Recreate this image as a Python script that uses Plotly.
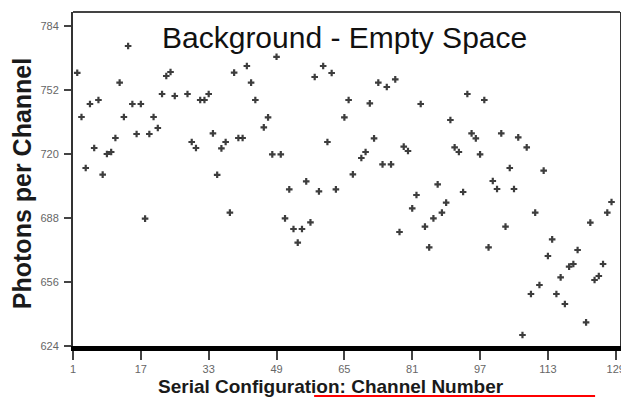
import plotly.graph_objects as go

channels = [2, 3, 4, 5, 6, 7, 8, 9, 10, 11, 12, 13, 14, 15, 16, 17, 18, 19, 20, 21, 22,
            23, 24, 25, 28, 29, 30, 31, 32, 33, 34, 35, 36, 37, 38, 39, 40, 41, 42, 43, 44,
            46, 47, 48, 49, 50, 51, 52, 53, 54, 55, 56, 57, 58, 59, 60, 61, 62, 63, 65, 66,
            67, 69, 70, 71, 72, 73, 74, 75, 76, 77, 78, 79, 80, 81, 82, 83, 84, 85, 86, 87,
            88, 89, 90, 91, 92, 93, 94, 95, 96, 97, 98, 99, 100, 101, 102, 103, 104, 105, 106,
            107, 108, 109, 110, 111, 112, 113, 114, 115, 116, 117, 118, 119, 120, 122, 123,
            124, 125, 126, 127, 128]
photons = [760.6, 738.5, 713, 745, 723, 747, 709.7, 720, 721, 728, 755.7, 738.5, 774, 745, 730, 745, 687.7, 730, 738.5, 733, 750,
           759, 761, 749, 750, 726, 723, 747, 747, 750, 730.3, 709.6, 722.8, 726, 690.7, 760.7, 728, 728, 764, 755.7, 747,
           733.3, 738.3, 719.8, 768.6, 719.8, 687.8, 702.3, 682.5, 675.7, 682.5, 706.3, 685.8, 758.5, 701.3, 764, 726, 760.5, 702.3, 738.3, 747,
           709.8, 718, 721, 745.3, 727.8, 755.7, 714.8, 753.5, 714.8, 757.3, 681, 723.7, 721.5, 692.8, 699.5, 745, 683.7, 673.3, 687.8, 704.8,
           690.7, 695.7, 737, 723.3, 721, 701, 750, 730.3, 727.8, 719.8, 747, 673.3, 706.5, 702.5, 730.3, 683.7, 713, 702.5, 728.3,
           629.5, 723.3, 650, 690.7, 654.5, 711.7, 669, 677.3, 650, 658.3, 645, 663.7, 665, 672, 635.8, 685.7,
           657, 659, 665, 690.7, 696]

y_ticks = [624, 656, 688, 720, 752, 784]
x_ticks = [1, 17, 33, 49, 65, 81, 97, 113, 129]

title_text = "Background - Empty Space"
x_title = "Serial Configuration: Channel Number"
y_title = "Photons per Channel"

fig = go.Figure()
fig.add_trace(go.Scatter(
    x=channels, y=photons, mode="markers",
    marker=dict(symbol="cross", size=5.5, color="rgba(40,40,40,0.9)", line=dict(width=0)),
    showlegend=False, hoverinfo="x+y"))

# page body has an 8px margin, so the figure is sized to fill the rest of the window
OFF = 8
W, H = 629 - OFF, 398 - OFF
L, R, T, B = 73 - OFF, 629 - 622, 12 - OFF, 398 - 346
pw, ph = 622 - 73, 346 - 12

def px(xs):
    return (xs - 73) / pw

def py(ys):
    return (346 - ys) / ph

fig.update_layout(
    width=W, height=H,
    margin=dict(l=L, r=R, t=T, b=B, pad=0),
    paper_bgcolor="white", plot_bgcolor="white",
    font=dict(family="Liberation Sans, Arial, sans-serif"),
    xaxis=dict(range=[1, 130], tickvals=x_ticks, ticktext=[str(v) for v in x_ticks],
               showgrid=False, zeroline=False, showline=True, linewidth=5, linecolor="black",
               ticks="outside", ticklen=9, tickwidth=2, tickcolor="#444",
               tickfont=dict(size=11, color="#666")),
    yaxis=dict(range=[624, 791], tickvals=y_ticks, ticktext=[str(v) for v in y_ticks],
               showgrid=False, zeroline=False, showline=True, linewidth=2, linecolor="#333",
               mirror=True, ticklabelstandoff=3,
               ticks="outside", ticklen=7, tickwidth=2, tickcolor="#444",
               tickfont=dict(size=11, color="#666")),
    annotations=[
        dict(text=title_text, xref="paper", yref="paper", x=px(345), y=py(38),
             xanchor="center", yanchor="middle", showarrow=False,
             font=dict(size=30, color="#111")),
        dict(text="<b>" + y_title + "</b>", xref="paper", yref="paper", x=px(22), y=py(184),
             xanchor="center", yanchor="middle", textangle=-90, showarrow=False,
             font=dict(size=25, color="#1a1a1a")),
        dict(text="<b>" + x_title + "</b>", xref="paper", yref="paper", x=px(332), y=py(386),
             xanchor="center", yanchor="middle", showarrow=False,
             font=dict(size=19, color="#1a1a1a")),
    ],
    shapes=[
        dict(type="line", xref="paper", yref="paper", x0=0, x1=1, y0=1, y1=1,
             line=dict(color="#444", width=2)),
        dict(type="line", xref="paper", yref="paper", x0=px(315), x1=px(597), y0=py(396), y1=py(396),
             line=dict(color="red", width=2)),
    ],
)

fig.write_html("out.html")
